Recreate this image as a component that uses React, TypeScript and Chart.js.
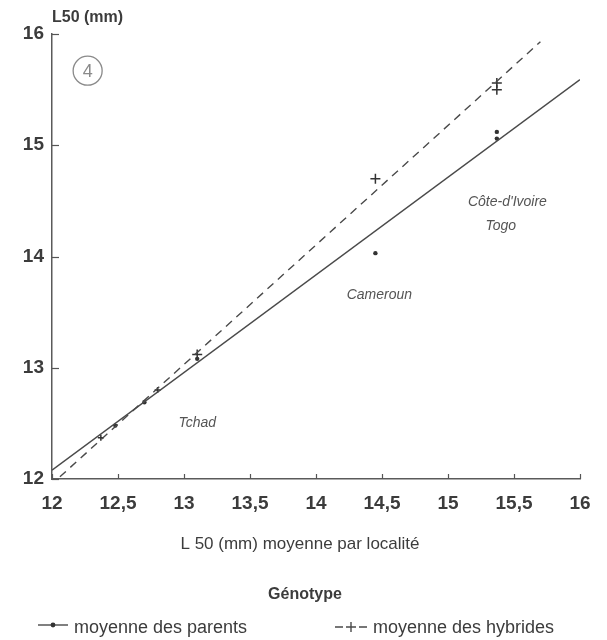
import React, { useEffect, useRef } from "react";
import { Chart, registerables } from "chart.js";
Chart.register(...registerables);

// Regression lines (end points)
const parentLineX = [12, 16];
const parentLineY = [12.08, 15.59];
const hybridLineX = [12.06, 15.7];
const hybridLineY = [12.02, 15.93];

// Point means
const parentX = [12.48, 12.7, 13.1, 14.45, 15.37, 15.37];
const parentY = [12.48, 12.69, 13.08, 14.03, 15.12, 15.06];
const hybridX = [12.37, 12.8, 13.1, 14.45, 15.37, 15.37];
const hybridY = [12.37, 12.8, 13.12, 14.7, 15.56, 15.5];

// Locality labels
const localityNames = ["Côte-d'Ivoire", "Togo", "Cameroun", "Tchad"];
const localityX = [15.45, 15.4, 14.48, 13.1];
const localityY = [14.49, 14.27, 13.65, 12.5];

// Axis ticks
const xTickValues = [12, 12.5, 13, 13.5, 14, 14.5, 15, 15.5, 16];
const yTickValues = [12, 13, 14, 15, 16];

const panelNumber = "4";
const panelX = 12.27;
const panelY = 15.67;

const yTitle = "L50 (mm)";
const xTitle = "L 50 (mm) moyenne par localité";
const legendTitle = "Génotype";
const seriesNames = ["moyenne des parents", "moyenne des hybrides"];

const FONT = "'Liberation Sans', Arial, Helvetica, sans-serif";
const INK = "#3c3c3c";
const LINE = "#4a4a4a";

const toPts = (xs: number[], ys: number[]) => xs.map((x, i) => ({ x, y: ys[i] }));
const fmt = (v: number) => String(v).replace(".", ",");

export default function App() {
  const ref = useRef<HTMLCanvasElement>(null);

  useEffect(() => {
    if (!ref.current) return;

    const decor = {
      id: "decor",
      afterDraw(chart: any) {
        const ctx = chart.ctx as CanvasRenderingContext2D;
        const xs = chart.scales.x;
        const ys = chart.scales.y;
        const area = chart.chartArea;
        ctx.save();

        // inward tick marks
        ctx.strokeStyle = "#555";
        ctx.lineWidth = 1.2;
        xTickValues.forEach((v) => {
          const px = Math.round(xs.getPixelForValue(v)) + 0.5;
          ctx.beginPath();
          ctx.moveTo(px, area.bottom);
          ctx.lineTo(px, area.bottom - 5);
          ctx.stroke();
        });
        yTickValues.forEach((v) => {
          const py = Math.round(ys.getPixelForValue(v)) + 0.5;
          ctx.beginPath();
          ctx.moveTo(area.left, py);
          ctx.lineTo(area.left + 7, py);
          ctx.stroke();
        });

        // y title
        ctx.fillStyle = INK;
        ctx.font = `bold 16px ${FONT}`;
        ctx.textAlign = "left";
        ctx.textBaseline = "middle";
        ctx.fillText(yTitle, area.left, 18);

        // x title
        ctx.font = `17px ${FONT}`;
        ctx.textAlign = "center";
        ctx.fillText(xTitle, 300, 544);

        // panel number in circle
        const cx = xs.getPixelForValue(panelX);
        const cy = ys.getPixelForValue(panelY);
        ctx.strokeStyle = "#8a8a8a";
        ctx.lineWidth = 1.3;
        ctx.beginPath();
        ctx.arc(cx, cy, 14.5, 0, Math.PI * 2);
        ctx.stroke();
        ctx.fillStyle = "#8a8a8a";
        ctx.font = `18px ${FONT}`;
        ctx.textAlign = "center";
        ctx.fillText(panelNumber, cx, cy + 1);

        // locality labels
        ctx.fillStyle = "#555";
        ctx.font = `italic 14px ${FONT}`;
        localityNames.forEach((n, i) => {
          ctx.fillText(n, xs.getPixelForValue(localityX[i]), ys.getPixelForValue(localityY[i]));
        });

        // legend
        ctx.fillStyle = INK;
        ctx.font = `bold 16px ${FONT}`;
        ctx.textAlign = "center";
        ctx.fillText(legendTitle, 305, 595);

        const ly = 628;
        ctx.strokeStyle = LINE;
        ctx.lineWidth = 1.4;
        ctx.beginPath();
        ctx.moveTo(38, ly - 3);
        ctx.lineTo(68, ly - 3);
        ctx.stroke();
        ctx.fillStyle = "#333";
        ctx.beginPath();
        ctx.arc(53, ly - 3, 2.4, 0, Math.PI * 2);
        ctx.fill();

        const sx = 335;
        ctx.beginPath();
        ctx.moveTo(sx, ly - 1);
        ctx.lineTo(sx + 8, ly - 1);
        ctx.moveTo(sx + 24, ly - 1);
        ctx.lineTo(sx + 32, ly - 1);
        ctx.moveTo(sx + 11, ly - 1);
        ctx.lineTo(sx + 21, ly - 1);
        ctx.moveTo(sx + 16, ly - 6);
        ctx.lineTo(sx + 16, ly + 4);
        ctx.stroke();

        ctx.fillStyle = INK;
        ctx.font = `18px ${FONT}`;
        ctx.textAlign = "left";
        ctx.fillText(seriesNames[0], 74, ly);
        ctx.fillText(seriesNames[1], sx + 38, ly);

        ctx.restore();
      },
    };

    const chart = new Chart(ref.current, {
      type: "scatter",
      data: {
        datasets: [
          {
            label: seriesNames[0],
            data: toPts(parentLineX, parentLineY),
            showLine: true,
            borderColor: LINE,
            borderWidth: 1.4,
            pointRadius: 0,
          },
          {
            label: seriesNames[1],
            data: toPts(hybridLineX, hybridLineY),
            showLine: true,
            borderColor: LINE,
            borderWidth: 1.4,
            borderDash: [8, 6],
            pointRadius: 0,
          },
          {
            label: seriesNames[0] + " (points)",
            data: toPts(parentX, parentY),
            pointStyle: "circle",
            pointRadius: 2.2,
            backgroundColor: "#333",
            borderColor: "#333",
            borderWidth: 0,
          },
          {
            label: seriesNames[1] + " (points)",
            data: toPts(hybridX, hybridY),
            pointStyle: "cross",
            pointRadius: [3, 3, 5, 5, 5, 5],
            borderColor: "#333",
            borderWidth: 1.5,
          },
        ],
      },
      options: {
        responsive: false,
        animation: false,
        events: [],
        layout: { padding: { left: 0, right: 27, top: 34, bottom: 91 } },
        plugins: { legend: { display: false }, tooltip: { enabled: false } },
        scales: {
          x: {
            type: "linear",
            min: 12,
            max: 16,
            afterFit: (s: any) => {
              s.height = 70;
            },
            afterBuildTicks: (s: any) => {
              s.ticks = xTickValues.map((v) => ({ value: v }));
            },
            ticks: {
              callback: (v: any) => fmt(Number(v)),
              color: INK,
              font: { family: FONT, size: 19, weight: "bold" },
              padding: 13,
              maxRotation: 0,
            },
            grid: { display: true, drawOnChartArea: false, drawTicks: false },
            border: { display: true, color: "#5a5a5a", width: 1.5 },
            title: { display: false, text: xTitle },
          },
          y: {
            type: "linear",
            min: 12,
            max: 16,
            afterFit: (s: any) => {
              s.width = 52;
            },
            afterBuildTicks: (s: any) => {
              s.ticks = yTickValues.map((v) => ({ value: v }));
            },
            ticks: {
              callback: (v: any) => fmt(Number(v)),
              color: INK,
              font: { family: FONT, size: 19, weight: "bold" },
              padding: 8,
            },
            grid: { display: true, drawOnChartArea: false, drawTicks: false },
            border: { display: true, color: "#5a5a5a", width: 1.5 },
          },
        },
      },
      plugins: [decor],
    } as any);

    return () => chart.destroy();
  }, []);

  return (
    <div style={{ position: "absolute", left: 0, top: 0, width: 607, height: 640, background: "#fff" }}>
      <canvas ref={ref} width={607} height={640} style={{ width: 607, height: 640, display: "block" }} />
    </div>
  );
}
